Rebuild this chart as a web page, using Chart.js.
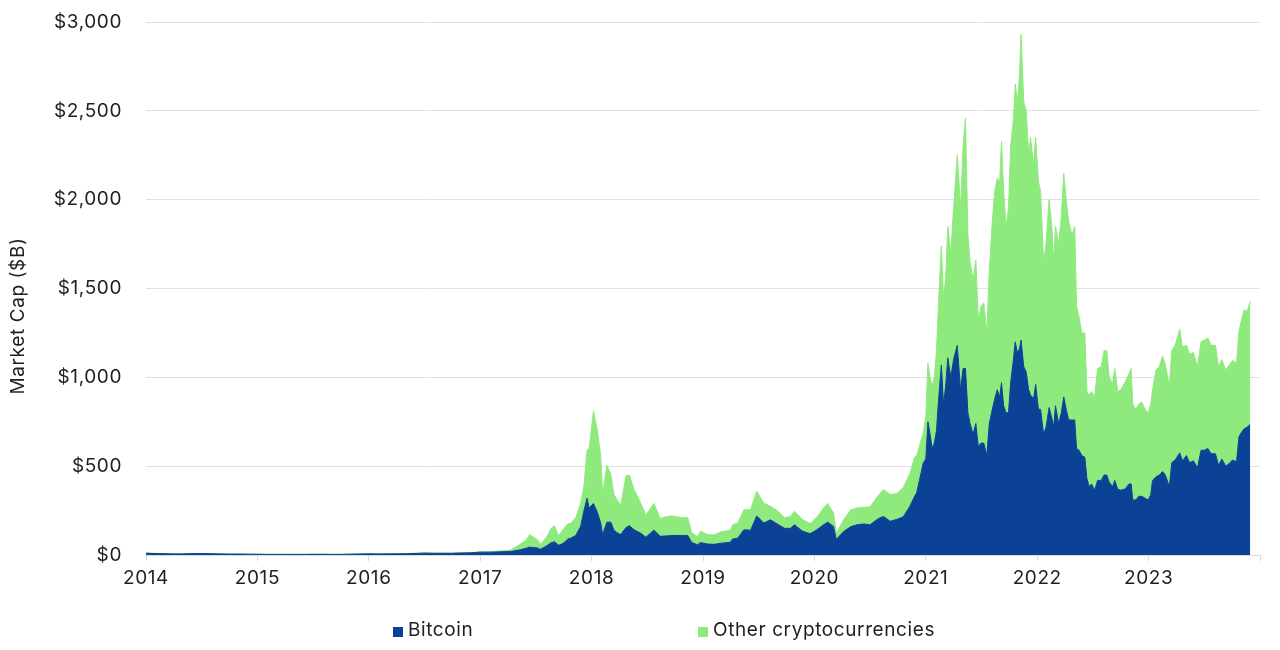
<!DOCTYPE html>
<html>
<head>
<meta charset="utf-8">
<title>Crypto market cap</title>
<script src="https://cdn.jsdelivr.net/npm/chart.js@4.4.1/dist/chart.umd.min.js"></script>
<style>
  html, body { margin: 0; padding: 0; background: #fff; }
  #wrap { width: 1280px; height: 650px; position: relative; }
</style>
</head>
<body>
<div id="wrap"><canvas id="capChart" width="1280" height="650"></canvas></div>
<script>
// sample dates (roughly every 1-4 weeks), values in $B
const dates = [
  '2014-01-01','2014-02-01','2014-03-01','2014-04-01','2014-05-01','2014-06-01','2014-07-01','2014-08-01','2014-09-01','2014-10-01','2014-11-01','2014-12-01',
  '2015-01-01','2015-02-01','2015-03-01','2015-04-01','2015-05-01','2015-06-01','2015-07-01','2015-08-01','2015-09-01','2015-10-01','2015-11-01','2015-12-01',
  '2016-01-01','2016-02-01','2016-03-01','2016-04-01','2016-05-01','2016-06-01','2016-07-01','2016-08-01','2016-09-01','2016-10-01','2016-11-01','2016-12-01',
  '2017-01-01','2017-02-01','2017-03-10','2017-04-10','2017-05-09','2017-06-01','2017-06-12','2017-06-22','2017-07-08','2017-07-16','2017-07-24','2017-08-10',
  '2017-08-20','2017-09-01','2017-09-15','2017-09-25','2017-10-03','2017-10-15','2017-10-25','2017-11-10','2017-11-26','2017-12-07','2017-12-17','2017-12-24',
  '2018-01-07','2018-01-20','2018-01-31','2018-02-06','2018-02-20','2018-03-05','2018-03-15','2018-03-26','2018-04-06','2018-04-24','2018-05-05','2018-05-20',
  '2018-06-11','2018-06-28','2018-07-24','2018-08-14','2018-09-06','2018-09-20','2018-10-25','2018-11-12','2018-11-25','2018-12-14','2018-12-24',
  '2019-01-15','2019-02-06','2019-02-28','2019-04-01','2019-04-08','2019-04-25','2019-05-15','2019-06-06','2019-06-26','2019-07-19','2019-08-10','2019-09-01',
  '2019-09-25','2019-10-14','2019-10-28','2019-11-22','2019-12-18',
  '2020-01-09','2020-01-31','2020-02-14','2020-03-04','2020-03-13','2020-04-06','2020-04-30','2020-05-20','2020-06-11','2020-07-02','2020-07-29','2020-08-15',
  '2020-09-06','2020-09-27','2020-10-19','2020-11-10','2020-11-25','2020-12-02','2020-12-24',
  '2021-01-01','2021-01-08','2021-01-15','2021-01-22','2021-01-29','2021-02-05','2021-02-12','2021-02-21','2021-02-28','2021-03-07','2021-03-14','2021-03-24',
  '2021-04-02','2021-04-14','2021-04-25','2021-05-03','2021-05-11','2021-05-19','2021-05-26','2021-06-05','2021-06-14','2021-06-22','2021-07-01','2021-07-10',
  '2021-07-20','2021-07-28','2021-08-07','2021-08-15','2021-08-23','2021-08-31','2021-09-06','2021-09-13','2021-09-21','2021-09-29','2021-10-06','2021-10-15',
  '2021-10-21','2021-10-28','2021-11-04','2021-11-09','2021-11-18','2021-11-26','2021-12-04','2021-12-10','2021-12-20','2021-12-27',
  '2022-01-05','2022-01-12','2022-01-22','2022-01-30','2022-02-09','2022-02-18','2022-02-24','2022-03-02','2022-03-12','2022-03-21','2022-03-29','2022-04-06',
  '2022-04-14','2022-04-25','2022-05-04','2022-05-10','2022-05-18','2022-05-27','2022-06-06','2022-06-13','2022-06-20','2022-06-28','2022-07-08','2022-07-18',
  '2022-07-30','2022-08-08','2022-08-17','2022-08-25','2022-09-05','2022-09-12','2022-09-22','2022-10-02','2022-10-15','2022-10-29','2022-11-05','2022-11-10',
  '2022-11-20','2022-11-30','2022-12-10','2022-12-20','2022-12-31',
  '2023-01-08','2023-01-14','2023-01-25','2023-02-05','2023-02-16','2023-02-25','2023-03-10','2023-03-18','2023-03-29','2023-04-13','2023-04-22','2023-05-05',
  '2023-05-15','2023-05-28','2023-06-10','2023-06-22','2023-07-03','2023-07-14','2023-07-25','2023-08-08','2023-08-18','2023-08-29','2023-09-11','2023-09-22',
  '2023-10-03','2023-10-16','2023-10-24','2023-11-01','2023-11-10','2023-11-20','2023-11-30'
];

const bitcoin = [
  10, 8, 7.5, 6, 6, 8, 8, 7.5, 6, 5, 5, 4.5,
  4.3, 3.2, 3.5, 3.4, 3.3, 3.2, 3.8, 4.2, 3.4, 3.5, 4.5, 5.5,
  6.5, 5.7, 6.3, 6.5, 7, 8.5, 10.5, 9.5, 9.5, 9.5, 11.5, 12,
  16, 16, 18, 20, 28, 38, 45, 42, 40, 32, 38, 55,
  68, 75, 55, 62, 70, 90, 95, 110, 160, 250, 320, 265,
  290, 240, 180, 115, 185, 185, 140, 125, 115, 155, 165, 142,
  123, 100, 140, 105, 108, 110, 110, 110, 70, 58, 70,
  62, 60, 66, 72, 90, 95, 142, 140, 220, 180, 198, 175,
  150, 150, 170, 135, 120,
  142, 170, 185, 160, 88, 132, 160, 170, 175, 170, 205, 217,
  190, 200, 215, 275, 330, 350, 520,
  540, 750, 680, 600, 630, 700, 880, 1070, 850, 950, 1110, 1000,
  1100, 1180, 930, 1050, 1050, 800, 740, 680, 740, 610, 630, 630,
  560, 740, 820, 880, 930, 890, 970, 840, 800, 800, 970, 1100,
  1200, 1140, 1160, 1210, 1060, 1030, 930, 900, 880, 960,
  820, 820, 680, 720, 830, 770, 720, 840, 740, 800, 890, 820,
  760, 760, 760, 600, 590, 560, 550, 430, 385, 400, 365, 420,
  420, 450, 450, 410, 385, 420, 370, 365, 370, 400, 400, 310,
  310, 330, 330, 320, 310,
  340, 420, 440, 450, 470, 450, 385, 520, 535, 575, 530, 560,
  520, 530, 490, 590, 590, 600, 570, 570, 505, 540, 500, 515,
  535, 525, 665, 690, 710, 720, 735
];

const others = [
  1.5, 1.2, 1, 0.8, 0.8, 0.8, 0.7, 0.6, 0.5, 0.5, 0.5, 0.5,
  0.6, 0.6, 0.6, 0.6, 0.6, 0.6, 0.6, 0.6, 0.6, 0.6, 0.6, 0.7,
  0.9, 1.2, 1.3, 1.3, 1.3, 1.6, 2, 1.5, 1.5, 1.4, 1.5, 1.5,
  2.5, 3, 5, 8, 29, 47, 70, 62, 45, 30, 34, 55,
  80, 90, 55, 70, 80, 85, 85, 100, 130, 140, 270, 335,
  521, 460, 377, 225, 320, 270, 200, 185, 165, 290, 285, 226,
  169, 125, 150, 100, 109, 110, 100, 100, 55, 45, 65,
  53, 53, 64, 68, 80, 85, 113, 115, 140, 112, 76, 75,
  60, 66, 76, 66, 57,
  70, 95, 105, 76, 35, 66, 95, 94, 94, 100, 130, 151,
  151, 145, 165, 185, 220, 210, 170,
  240, 330, 320, 350, 370, 450, 550, 670, 600, 600, 740, 700,
  850, 1070, 1020, 1250, 1410, 1000, 910, 870, 920, 710, 770, 790,
  690, 860, 1060, 1170, 1190, 1210, 1360, 1210, 1050, 1150, 1330, 1350,
  1450, 1410, 1540, 1720, 1490, 1470, 1320, 1450, 1320, 1390,
  1280, 1230, 970, 1030, 1170, 1080, 930, 1010, 1010, 1100, 1260, 1180,
  1120, 1040, 1090, 800, 750, 690, 700, 490, 515, 520, 525, 630,
  640, 700, 700, 590, 580, 630, 550, 565, 600, 620, 650, 540,
  510, 520, 530, 500, 490,
  510, 510, 600, 610, 650, 620, 565, 630, 645, 695, 640, 620,
  610, 610, 570, 610, 620, 620, 610, 610, 555, 560, 540, 555,
  560, 555, 595, 630, 670, 650, 695
];

const yTicksMax = 3000;
const yStep = 500;
const firstYear = 2014;
const lastYear = 2024;

const seriesNames = ['Bitcoin', 'Other cryptocurrencies'];
const seriesColors = ['#0b4296', '#8fea7e'];

function toYear(s) {
  const d = new Date(s + 'T00:00:00Z');
  const y = d.getUTCFullYear();
  const start = Date.UTC(y, 0, 1);
  const end = Date.UTC(y + 1, 0, 1);
  return y + (d.getTime() - start) / (end - start);
}

const xs = dates.map(toYear);
const btcPoints = xs.map((x, i) => ({ x: x, y: bitcoin[i] }));
const otherPoints = xs.map((x, i) => ({ x: x, y: others[i] }));

const FONT = 'Inter, "Noto Sans", sans-serif';
const TEXT = '#1f1f1f';
const SPACING = '0.6px';

// y axis title + bottom legend drawn by hand so they sit where the original has them
const extras = {
  id: 'extras',
  beforeDraw(chart) {
    chart.ctx.letterSpacing = SPACING;
  },
  afterDraw(chart) {
    const ctx = chart.ctx;
    ctx.save();
    ctx.letterSpacing = SPACING;
    ctx.fillStyle = TEXT;
    ctx.font = '19px ' + FONT;
    ctx.translate(18, 316);
    ctx.rotate(-Math.PI / 2);
    ctx.textAlign = 'center';
    ctx.textBaseline = 'middle';
    ctx.fillText('Market Cap ($B)', 0, 0);
    ctx.restore();

    const slots = [393, 698];
    ctx.save();
    ctx.letterSpacing = SPACING;
    ctx.font = '19px ' + FONT;
    ctx.textBaseline = 'middle';
    ctx.textAlign = 'left';
    seriesNames.forEach((name, i) => {
      ctx.fillStyle = seriesColors[i];
      ctx.fillRect(slots[i], 627, 10, 10);
      ctx.fillStyle = TEXT;
      ctx.fillText(name, slots[i] + 15, 630);
    });
    ctx.restore();
  }
};

const ctx = document.getElementById('capChart').getContext('2d');
new Chart(ctx, {
  type: 'line',
  data: {
    datasets: [
      {
        label: seriesNames[0],
        data: btcPoints,
        backgroundColor: seriesColors[0],
        borderColor: seriesColors[0],
        borderWidth: 1,
        pointRadius: 0,
        fill: 'origin',
        tension: 0
      },
      {
        label: seriesNames[1],
        data: otherPoints,
        backgroundColor: seriesColors[1],
        borderColor: seriesColors[1],
        borderWidth: 1,
        pointRadius: 0,
        fill: '-1',
        tension: 0
      }
    ]
  },
  options: {
    responsive: false,
    animation: false,
    layout: { padding: { top: 22, right: 20, left: 0, bottom: 0 } },
    plugins: {
      legend: { display: false },
      tooltip: { enabled: false }
    },
    scales: {
      x: {
        type: 'linear',
        min: firstYear,
        max: lastYear,
        afterFit: s => { s.height = 95; },
        ticks: {
          stepSize: 1,
          padding: 6,
          color: TEXT,
          font: { family: FONT, size: 19 },
          maxRotation: 0,
          callback: v => (v < lastYear ? String(v) : '')
        },
        grid: { drawOnChartArea: false, drawTicks: true, tickLength: 6, color: '#d9d9d9' },
        border: { display: true, color: '#d9d9d9' }
      },
      y: {
        stacked: true,
        min: 0,
        max: yTicksMax,
        afterFit: s => { s.width = 146; },
        ticks: {
          stepSize: yStep,
          padding: 0,
          color: TEXT,
          font: { family: FONT, size: 19 },
          callback: v => '$' + v.toLocaleString('en-US')
        },
        grid: { color: '#e1e1e1', drawTicks: true, tickLength: 24, tickColor: 'rgba(0,0,0,0)' },
        border: { display: false }
      }
    }
  },
  plugins: [extras]
});
</script>
</body>
</html>
